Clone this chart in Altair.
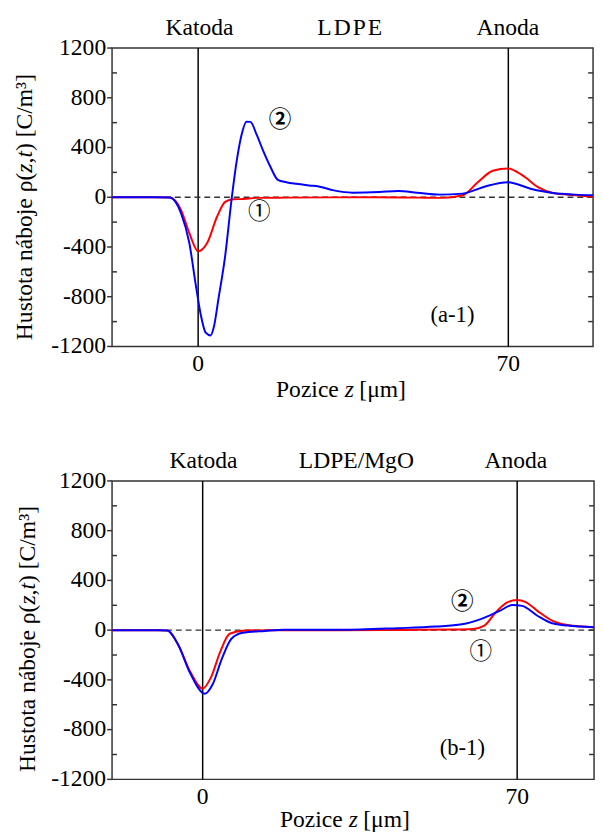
import altair as alt
import pandas as pd

SERIF = "Liberation Serif"
CIRC = "Noto Sans CJK JP"

# ---------------- data ----------------
# panel (a-1): LDPE
p1_red_z = [-19.4, -10, -6.4, -3.85, -2.0, 0.0, 2.06, 4.28, 6.1, 7.95, 10.2, 13.2, 20, 30, 40,
            49.5, 55, 59.7, 63.1, 66.5, 69.9, 73.3, 76.7, 80.1, 85.2, 89.1]
p1_red_rho = [0, 0, -2, -103, -287, -435, -366, -155, -37, -16, -14, -5, -3, -1, 0,
              -3, -5, 16, 121, 213, 232, 174, 82, 34, 16, 3]
p1_blue_z = [-19.4, -10, -6.4, -3.85, -2.0, -0.52, 0.59, 1.7, 2.8, 3.5, 4.6, 6.1, 7.6, 8.7, 9.8,
             10.9, 11.8, 13.2, 14.7, 16.2, 18.0, 19.9, 22.1, 25.1, 27.2, 30.6, 34.9, 40.9, 45.1,
             49.4, 54.5, 59.7, 64.8, 69.9, 75, 80.1, 85.2, 89.1]
p1_blue_rho = [0, 0, -2, -129, -366, -708, -945, -1089, -1111, -1050, -813, -471, 0, 292, 503,
               608, 606, 503, 371, 253, 140, 121, 108, 95, 87, 55, 37, 42, 50,
               37, 21, 29, 87, 121, 69, 34, 21, 16]

# panel (b-1): LDPE/MgO
p2_red_z = [-20.1, -10, -7.9, -5.4, -2.8, 0, 1.8, 3.9, 6.0, 8.9, 15, 30, 45, 55, 60.2, 62.7,
            65.2, 67.7, 69.9, 71.9, 74.5, 77.8, 81.2, 87.1]
p2_red_rho = [0, 0, -3, -121, -332, -469, -384, -174, -29, -5, 0, 0, 2, 5, 10, 36,
              142, 221, 242, 226, 155, 76, 41, 23]
p2_blue_z = [-20.1, -10, -7.9, -5.4, -2.8, 0.5, 2.2, 4.3, 6.4, 8.9, 13.9, 18.2, 30.8, 43.4,
             51.8, 57.7, 61.9, 66.1, 69.0, 71.1, 74.5, 77.8, 81.2, 87.1]
p2_blue_rho = [0, 0, -3, -121, -345, -511, -437, -227, -69, -21, -6, 3, 3, 16,
               29, 47, 89, 155, 202, 195, 116, 55, 37, 23]

y_major = [-1200, -800, -400, 0, 400, 800, 1200]
y_minor = [-1000, -600, -200, 200, 600, 1000]
y_right = [-1000, -800, -600, -400, -200, 0, 200, 400, 600, 800, 1000]
x_ticks = [0, 70]
electrodes = [0, 70]

p1_top_z = [0.3, 34.2, 69.9]
p1_top_text = ["Katoda", "L\u200aD\u200aP\u200aE", "Anoda"]
p2_top_z = [0.2, 34.2, 69.7]
p2_top_text = ["Katoda", "LDPE/MgO", "Anoda"]

p1_ann_z = [18.5, 13.8]
p1_ann_rho = [624, -118]
p2_ann_z = [57.8, 61.9]
p2_ann_rho = [226, -174]
ann_text = ["\u2461", "\u2460"]

p1_tag = ("(a-1)", 57.4, -945)
p2_tag = ("(b-1)", 57.8, -950)

# title pieces: (text, italic, space before [em/1000], advance width [em/1000])
Y_TITLE_PARTS = [("Hustota", False, 0, 3111), ("náboje", False, 250, 2666),
                 ("ρ(", False, 250, 833), ("z", True, 0, 389), (",", False, 0, 250),
                 ("t", True, 0, 278), (")", False, 0, 333), ("[C/m³]", False, 250, 2689)]
X_TITLE_PARTS = [("Pozice", False, 0, 2666), ("z", True, 250, 389), ("[μm]", False, 250, 1944)]
FS = 24
H = 304


def label_width(s):
    return sum(FS * 0.5 if c.isdigit() else FS * 0.333 for c in s)


def part_frame(parts, center, direction):
    total = sum(sp + w for _, _, sp, w in parts) * FS / 1000.0
    pos = center - direction * total / 2.0
    rows = []
    for txt, ital, sp, w in parts:
        pos += direction * sp * FS / 1000.0
        half = w * FS / 2000.0
        rows.append({"t": txt, "p": pos + direction * half, "it": ital})
        pos += direction * w * FS / 1000.0
    return pd.DataFrame(rows)


def make_panel(rz, rr, bz, br, xdom, width, top_z, top_text, ann_z, ann_rho, tag,
               xtitle_x, xtitle_y, ytitle_x, ytitle_y):
    xs = alt.Scale(domain=xdom, nice=False, zero=False)
    ys = alt.Scale(domain=[-1200, 1200], nice=False, zero=False)

    def X(f):
        return alt.X(f"{f}:Q", scale=xs, axis=None)

    def Y(f):
        return alt.Y(f"{f}:Q", scale=ys, axis=None)

    layers = []
    # electrode / material labels first
    layers.append(alt.Chart(pd.DataFrame({"z": top_z, "t": top_text})).mark_text(
        font=SERIF, fontSize=FS, baseline="middle", color="black").encode(
        x=X("z"), y=alt.value(-20), text="t:N"))
    # tick labels
    ylab = [str(v) for v in y_major]
    layers.append(alt.Chart(pd.DataFrame({"v": y_major, "t": ylab,
                                          "px": [-6 - label_width(s) / 2 for s in ylab]}))
                  .mark_text(font=SERIF, fontSize=FS, baseline="middle", color="black")
                  .encode(y=Y("v"), x=alt.X("px:Q", scale=None, axis=None), text="t:N"))
    layers.append(alt.Chart(pd.DataFrame({"z": x_ticks, "t": [str(v) for v in x_ticks]}))
                  .mark_text(font=SERIF, fontSize=FS, baseline="middle", color="black")
                  .encode(x=X("z"), y=alt.value(H + 18), text="t:N"))
    # axis titles (italic variables)
    xt = part_frame(X_TITLE_PARTS, xtitle_x, 1)
    yt = part_frame(Y_TITLE_PARTS, ytitle_y, -1)
    for ital in (False, True):
        sub = xt[xt["it"] == ital]
        layers.append(alt.Chart(sub).mark_text(
            font=SERIF, fontSize=FS, baseline="middle", color="black",
            fontStyle="italic" if ital else "normal").encode(
            x=alt.X("p:Q", scale=None, axis=None), y=alt.value(H + xtitle_y), text="t:N"))
        suby = yt[yt["it"] == ital]
        layers.append(alt.Chart(suby).mark_text(
            font=SERIF, fontSize=FS, baseline="middle", color="black",
            angle=270, fontStyle="italic" if ital else "normal").encode(
            y=alt.Y("p:Q", scale=None, axis=None), x=alt.value(ytitle_x), text="t:N"))

    layers.append(alt.Chart(pd.DataFrame({"z": electrodes})).mark_rule(
        color="black", strokeWidth=1.5).encode(x=X("z")))
    layers.append(alt.Chart(pd.DataFrame({"v": [0]})).mark_rule(
        color="#333", strokeWidth=1.3, strokeDash=[6, 4]).encode(y=Y("v")))
    # major ticks (outward), minor ticks (inward), right ticks (inward)
    layers.append(alt.Chart(pd.DataFrame({"v": y_major})).mark_rule(
        color="#333", strokeWidth=1.5).encode(y=Y("v"), x=alt.value(-5), x2=alt.value(0)))
    layers.append(alt.Chart(pd.DataFrame({"v": y_minor})).mark_rule(
        color="#333", strokeWidth=1.5).encode(y=Y("v"), x=alt.value(0), x2=alt.value(5)))
    layers.append(alt.Chart(pd.DataFrame({"v": y_right})).mark_rule(
        color="#333", strokeWidth=1.5).encode(y=Y("v"), x=alt.value(width - 5),
                                               x2=alt.value(width)))
    layers.append(alt.Chart(pd.DataFrame({"z": rz, "rho": rr})).mark_line(
        color="#ff0000", strokeWidth=2, interpolate="monotone", clip=True).encode(
        x=X("z"), y=Y("rho")))
    layers.append(alt.Chart(pd.DataFrame({"z": bz, "rho": br})).mark_line(
        color="#0000ff", strokeWidth=2, interpolate="monotone", clip=True).encode(
        x=X("z"), y=Y("rho")))
    ann_df = pd.DataFrame({"z": ann_z, "rho": ann_rho, "t": ann_text})
    layers.append(alt.Chart(ann_df.iloc[[0]]).mark_text(
        font=CIRC, fontSize=23, fontWeight="bold", baseline="middle", color="black").encode(
        x=X("z"), y=Y("rho"), text="t:N"))
    layers.append(alt.Chart(ann_df.iloc[[1]]).mark_text(
        font=CIRC, fontSize=23, baseline="middle", color="black").encode(
        x=X("z"), y=Y("rho"), text="t:N"))
    layers.append(alt.Chart(pd.DataFrame({"z": [tag[1]], "rho": [tag[2]], "t": [tag[0]]}))
                  .mark_text(font=SERIF, fontSize=23, baseline="middle", color="black")
                  .encode(x=X("z"), y=Y("rho"), text="t:N"))
    return alt.layer(*layers).properties(width=width, height=H)


p1 = make_panel(p1_red_z, p1_red_rho, p1_blue_z, p1_blue_rho, [-19.43, 89.12], 490,
                p1_top_z, p1_top_text, p1_ann_z, p1_ann_rho, p1_tag,
                233, 44, -89, 162)
p2 = make_panel(p2_red_z, p2_red_rho, p2_blue_z, p2_blue_rho, [-20.17, 87.11], 491,
                p2_top_z, p2_top_text, p2_ann_z, p2_ann_rho, p2_tag,
                237, 42, -85, 161)

chart = alt.vconcat(p1, p2, spacing=47).properties(
    padding={"left": 4, "top": 0, "right": 0, "bottom": 0}
).configure(
    view=alt.ViewConfig(stroke="#333", strokeWidth=1.5),
    text=alt.MarkConfig(font=SERIF),
)

chart.save("out.html", embed_options={"renderer": "svg", "actions": False})
